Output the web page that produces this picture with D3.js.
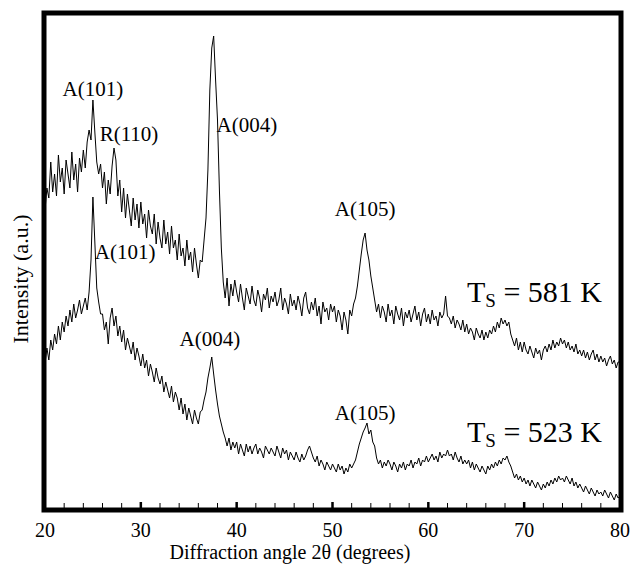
<!DOCTYPE html>
<html>
<head>
<meta charset="utf-8">
<script src="https://cdnjs.cloudflare.com/ajax/libs/d3/7.8.5/d3.min.js"></script>
<style>
  body { margin: 0; background: #fff; }
  text { font-family: "Liberation Serif", "Times New Roman", serif; fill: #000; }
</style>
</head>
<body>
<svg width="630" height="568"></svg>
<script>
// XRD patterns, 2theta from 20 to 80 deg sampled every 0.2 deg (a.u.)
var angleStart = 20, angleStep = 0.2;

var ts581 = [
  300, 322, 312, 348, 318, 336, 314, 355, 328, 342,
  316, 350, 336, 322, 358, 330, 346, 318, 352, 338,
  360, 342, 368, 380, 370, 410, 378, 348, 336, 346,
  322, 338, 306, 330, 316, 344, 362, 350, 314, 330,
  298, 322, 292, 316, 300, 284, 312, 290, 306, 282,
  308, 286, 296, 272, 300, 284, 276, 296, 266, 288,
  272, 262, 290, 266, 278, 256, 284, 262, 270, 250,
  276, 254, 262, 244, 270, 250, 258, 238, 262, 246,
  232, 250, 248, 270, 292, 340, 420, 462, 474, 430,
  390, 320, 262, 228, 212, 232, 204, 226, 214, 230,
  218, 208, 226, 212, 200, 222, 214, 206, 224, 210,
  204, 220, 212, 198, 216, 210, 222, 202, 214, 208,
  218, 204, 210, 222, 200, 212, 206, 196, 216, 204,
  210, 200, 214, 206, 194, 212, 218, 202, 196, 208,
  200, 212, 194, 204, 186, 208, 198, 202, 190, 206,
  198, 204, 188, 200, 194, 180, 198, 190, 176, 200,
  194, 206, 212, 224, 240, 256, 270, 277, 260, 250,
  234, 222, 210, 198, 206, 192, 204, 198, 188, 206,
  194, 200, 186, 204, 196, 190, 202, 184, 198, 192,
  200, 188, 196, 204, 190, 198, 184, 196, 202, 188,
  196, 186, 200, 190, 194, 184, 198, 192, 196, 214,
  194, 192, 186, 194, 182, 190, 186, 180, 190, 178,
  186, 176, 182, 178, 170, 182, 176, 172, 180, 170,
  178, 172, 180, 176, 184, 178, 188, 182, 192, 186,
  190, 184, 188, 176, 170, 164, 172, 160, 168, 158,
  168, 160, 156, 164, 158, 152, 162, 156, 160, 150,
  160, 164, 158, 166, 160, 170, 162, 168, 164, 172,
  166, 170, 162, 168, 160, 164, 158, 166, 156, 160,
  154, 160, 152, 158, 150, 156, 160, 150, 156, 148,
  154, 148, 152, 144, 150, 154, 146, 150, 142, 148,
  148
];

var ts523 = [
  146, 162, 150, 170, 160, 176, 166, 184, 170, 188,
  178, 194, 184, 200, 188, 206, 192, 200, 210, 196,
  204, 212, 200, 218, 250, 313, 268, 222, 208, 196,
  196, 180, 188, 166, 192, 202, 184, 194, 174, 184,
  168, 180, 160, 172, 164, 156, 168, 150, 162, 154,
  144, 156, 142, 150, 134, 146, 138, 128, 142, 132,
  126, 134, 118, 128, 120, 112, 124, 108, 118, 112,
  100, 112, 96, 106, 90, 102, 94, 86, 100, 92,
  86, 98, 100, 110, 118, 132, 142, 153, 136, 120,
  106, 94, 86, 78, 72, 64, 72, 60, 68, 62,
  68, 56, 66, 60, 54, 66, 58, 64, 56, 62,
  66, 56, 62, 58, 52, 64, 60, 56, 62, 58,
  54, 64, 58, 52, 62, 56, 60, 50, 58, 54,
  50, 58, 52, 48, 56, 50, 54, 60, 64, 58,
  52, 48, 54, 44, 50, 46, 40, 48, 44, 40,
  46, 42, 38, 46, 40, 44, 36, 42, 38, 46,
  42, 46, 50, 58, 66, 72, 78, 82, 87, 76,
  80, 68, 64, 52, 46, 50, 42, 48, 44, 50,
  46, 40, 48, 44, 38, 46, 42, 48, 40, 46,
  44, 50, 42, 48, 46, 52, 44, 50, 48, 54,
  48, 52, 56, 50, 54, 48, 58, 52, 56, 54,
  60, 54, 56, 50, 58, 52, 48, 54, 46, 50,
  46, 50, 42, 48, 40, 46, 42, 38, 44, 40,
  36, 44, 40, 46, 42, 48, 44, 50, 46, 52,
  50, 54, 48, 44, 38, 32, 36, 30, 34, 28,
  32, 26, 30, 24, 30, 26, 22, 28, 24, 20,
  26, 22, 28, 24, 30, 26, 32, 28, 34, 30,
  32, 28, 34, 30, 26, 32, 24, 28, 22, 26,
  22, 18, 24, 20, 16, 22, 18, 14, 20, 16,
  18, 14, 20, 16, 12, 18, 14, 10, 16, 12,
  14
];

var xTicks = [20, 30, 40, 50, 60, 70, 80];

// peak labels: [text, angle, intensity, anchor]
var peaks581 = [
  ["A(101)", 25.0, 414, "middle"],
  ["R(110)", 25.7, 369, "start"],
  ["A(004)", 37.9, 378, "start"],
  ["A(105)", 53.4, 294, "middle"]
];
var peaks523 = [
  ["A(101)", 25.2, 251, "start"],
  ["A(004)", 37.2, 164, "middle"],
  ["A(105)", 53.4, 90, "middle"]
];

var svg = d3.select("svg"),
    frameL = 44, frameR = 621, frameT = 13, frameB = 510;

var x = d3.scaleLinear().domain([20, 80]).range([45, 620]);
var y = d3.scaleLinear().domain([0, 497]).range([frameB, frameT]);

function angle(i) { return angleStart + i * angleStep; }

var line = d3.line()
  .x(function(d, i) { return x(angle(i)); })
  .y(function(d) { return y(d); });

[ts581, ts523].forEach(function(s) {
  svg.append("path")
    .datum(s)
    .attr("d", line)
    .attr("fill", "none")
    .attr("stroke", "#000")
    .attr("stroke-width", 1)
    .attr("stroke-linejoin", "round");
});

// minor ticks every 2 deg, pointing inward
var minor = d3.range(22, 80, 2).filter(function(t) { return t % 10 !== 0; });
svg.append("g").selectAll("line")
  .data(minor)
  .enter().append("line")
  .attr("x1", function(d) { return x(d); })
  .attr("x2", function(d) { return x(d); })
  .attr("y1", frameB)
  .attr("y2", frameB - 7)
  .attr("stroke", "#000")
  .attr("stroke-width", 1);

svg.append("g").selectAll("line")
  .data(xTicks.slice(1, -1))
  .enter().append("line")
  .attr("x1", function(d) { return x(d); })
  .attr("x2", function(d) { return x(d); })
  .attr("y1", frameB)
  .attr("y2", frameB - 8)
  .attr("stroke", "#000")
  .attr("stroke-width", 2.5);

svg.append("rect")
  .attr("x", frameL)
  .attr("y", frameT)
  .attr("width", frameR - frameL)
  .attr("height", frameB - frameT)
  .attr("fill", "none")
  .attr("stroke", "#000")
  .attr("stroke-width", 5);

svg.append("g").selectAll("text")
  .data(xTicks)
  .enter().append("text")
  .attr("x", function(d) { return x(d); })
  .attr("y", 537)
  .attr("text-anchor", "middle")
  .attr("font-size", "20px")
  .text(function(d) { return d; });

svg.append("text")
  .attr("x", 290)
  .attr("y", 559)
  .attr("text-anchor", "middle")
  .attr("font-size", "20px")
  .text("Diffraction angle 2\u03b8 (degrees)");

svg.append("text")
  .attr("transform", "translate(28,279) rotate(-90)")
  .attr("text-anchor", "middle")
  .attr("font-size", "22px")
  .text("Intensity (a.u.)");

peaks581.concat(peaks523).forEach(function(p) {
  svg.append("text")
    .attr("x", x(p[1]))
    .attr("y", y(p[2]))
    .attr("text-anchor", p[3])
    .attr("font-size", "21px")
    .text(p[0]);
});

function tempLabel(txt, yy) {
  var t = svg.append("text")
    .attr("x", 467)
    .attr("y", yy)
    .attr("font-size", "30px");
  t.append("tspan").text("T");
  t.append("tspan").attr("font-size", "19px").attr("dy", 5).text("S");
  t.append("tspan").attr("dy", -5).text(" = " + txt);
}
tempLabel("581 K", 302);
tempLabel("523 K", 442);
</script>
</body>
</html>
